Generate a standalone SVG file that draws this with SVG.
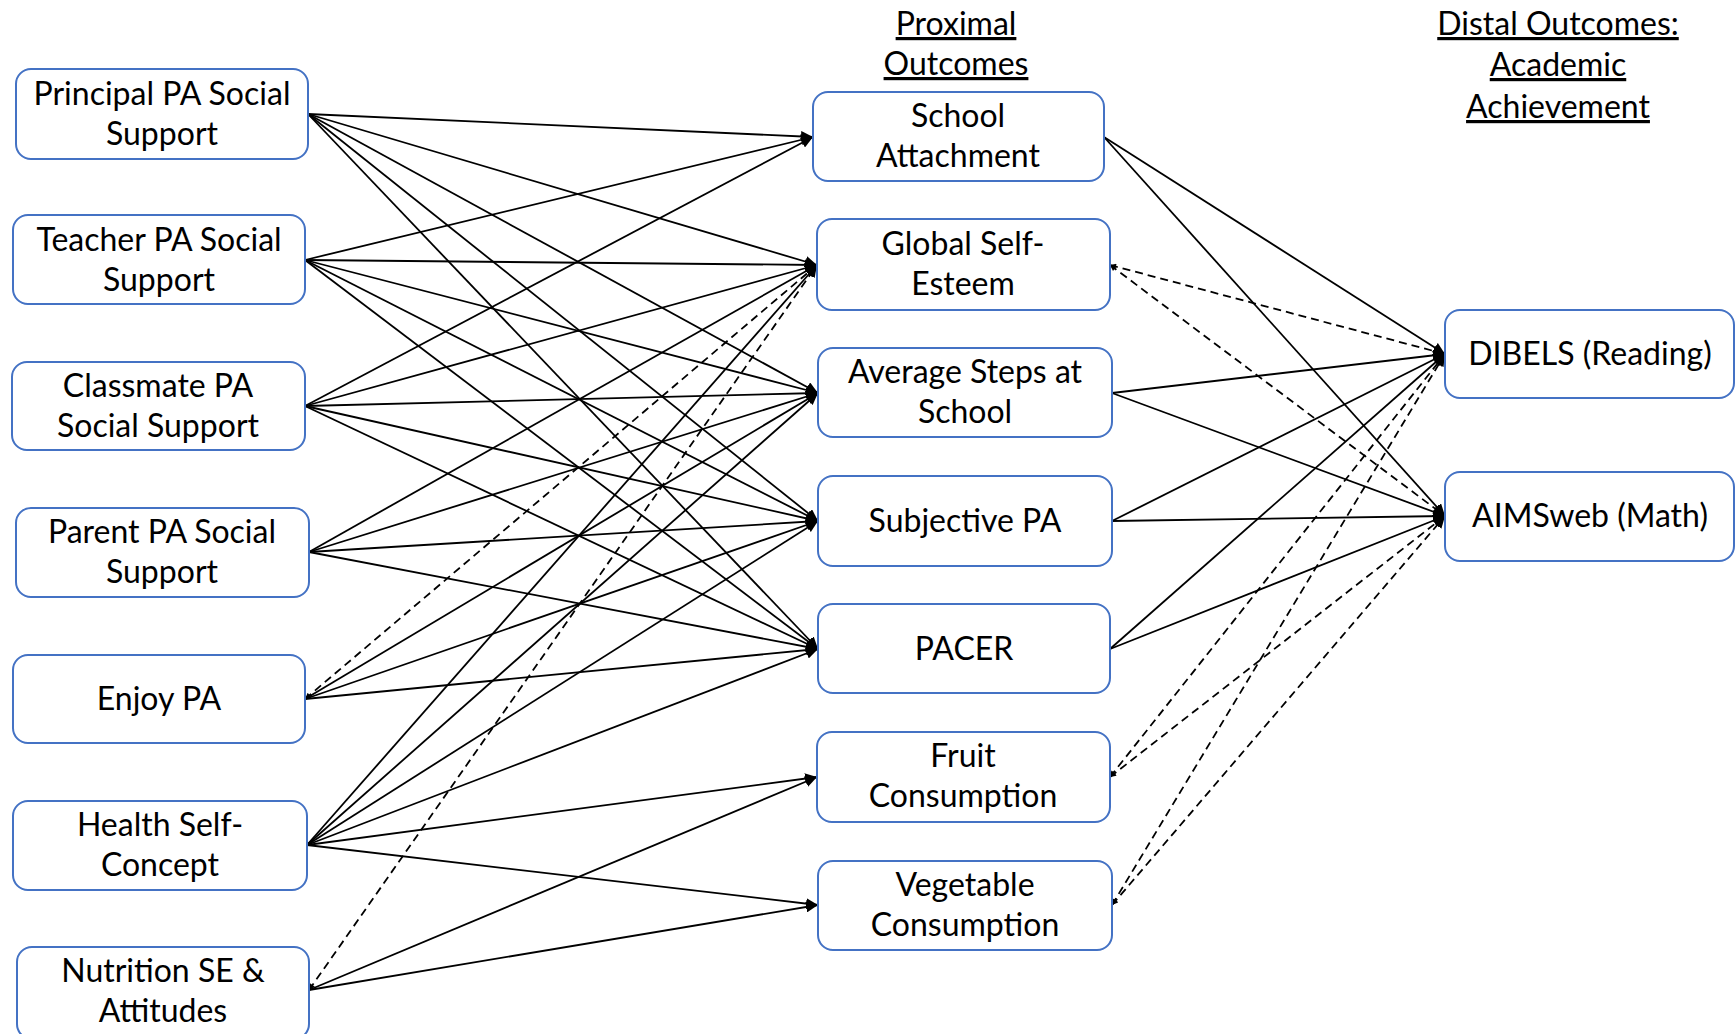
<svg xmlns="http://www.w3.org/2000/svg" width="1736" height="1034" viewBox="0 0 1736 1034">
<style>
.box rect{fill:#fff;stroke:#4472C4;stroke-width:2}
.lbl{font-family:Lato,"Open Sans","Liberation Sans",sans-serif;font-size:32px;fill:#000;text-anchor:middle}
.hdr{font-family:Lato,"Open Sans","Liberation Sans",sans-serif;font-size:32px;fill:#000;text-anchor:middle;text-decoration:underline}
.e{stroke:#000;stroke-width:1.8;fill:none;marker-end:url(#arr)}
.d{stroke:#000;stroke-width:1.8;fill:none;stroke-dasharray:8 5;marker-end:url(#arr);marker-start:url(#tail)}
</style>
<defs>
<marker id="arr" markerUnits="userSpaceOnUse" markerWidth="13" markerHeight="11" refX="12" refY="5.5" orient="auto"><path d="M0,0 L12,5.5 L0,11 z" fill="#000"/></marker>
<marker id="tail" markerUnits="userSpaceOnUse" markerWidth="7" markerHeight="6" refX="0" refY="3" orient="auto"><path d="M0,3 L6,0 L6,6 z" fill="#000"/></marker>
</defs>
<rect width="1736" height="1034" fill="#fff"/>
<g id="headers">
<text class="hdr" x="956" y="35">Proximal</text>
<text class="hdr" x="956" y="75">Outcomes</text>
<text class="hdr" x="1558" y="35">Distal Outcomes:</text>
<text class="hdr" x="1558" y="76">Academic</text>
<text class="hdr" x="1558" y="118">Achievement</text>
</g>
<g id="connectors">
<line class="e" x1="308" y1="114" x2="813" y2="137"/>
<line class="e" x1="308" y1="114" x2="817" y2="265"/>
<line class="e" x1="308" y1="114" x2="818" y2="393"/>
<line class="e" x1="308" y1="114" x2="818" y2="521"/>
<line class="e" x1="308" y1="114" x2="818" y2="649"/>
<line class="e" x1="305" y1="260" x2="813" y2="137"/>
<line class="e" x1="305" y1="260" x2="817" y2="265"/>
<line class="e" x1="305" y1="260" x2="818" y2="393"/>
<line class="e" x1="305" y1="260" x2="818" y2="521"/>
<line class="e" x1="305" y1="260" x2="818" y2="649"/>
<line class="e" x1="305" y1="406" x2="813" y2="137"/>
<line class="e" x1="305" y1="406" x2="817" y2="265"/>
<line class="e" x1="305" y1="406" x2="818" y2="393"/>
<line class="e" x1="305" y1="406" x2="818" y2="521"/>
<line class="e" x1="305" y1="406" x2="818" y2="649"/>
<line class="e" x1="309" y1="552" x2="817" y2="265"/>
<line class="e" x1="309" y1="552" x2="818" y2="393"/>
<line class="e" x1="309" y1="552" x2="818" y2="521"/>
<line class="e" x1="309" y1="552" x2="818" y2="649"/>
<line class="d" x1="305" y1="699" x2="817" y2="265"/>
<line class="e" x1="305" y1="699" x2="818" y2="393"/>
<line class="e" x1="305" y1="699" x2="818" y2="521"/>
<line class="e" x1="305" y1="699" x2="818" y2="649"/>
<line class="e" x1="307" y1="845" x2="817" y2="265"/>
<line class="e" x1="307" y1="845" x2="818" y2="393"/>
<line class="e" x1="307" y1="845" x2="818" y2="521"/>
<line class="e" x1="307" y1="845" x2="818" y2="649"/>
<line class="e" x1="307" y1="845" x2="817" y2="777"/>
<line class="e" x1="307" y1="845" x2="818" y2="905"/>
<line class="d" x1="309" y1="990" x2="817" y2="265"/>
<line class="e" x1="309" y1="990" x2="817" y2="777"/>
<line class="e" x1="309" y1="990" x2="818" y2="905"/>
<line class="e" x1="1104" y1="137" x2="1445" y2="354"/>
<line class="e" x1="1104" y1="137" x2="1445" y2="516"/>
<line class="d" x1="1110" y1="265" x2="1445" y2="354"/>
<line class="d" x1="1110" y1="265" x2="1445" y2="516"/>
<line class="e" x1="1112" y1="393" x2="1445" y2="354"/>
<line class="e" x1="1112" y1="393" x2="1445" y2="516"/>
<line class="e" x1="1112" y1="521" x2="1445" y2="354"/>
<line class="e" x1="1112" y1="521" x2="1445" y2="516"/>
<line class="e" x1="1110" y1="649" x2="1445" y2="354"/>
<line class="e" x1="1110" y1="649" x2="1445" y2="516"/>
<line class="d" x1="1110" y1="777" x2="1445" y2="354"/>
<line class="d" x1="1110" y1="777" x2="1445" y2="516"/>
<line class="d" x1="1112" y1="905" x2="1445" y2="354"/>
<line class="d" x1="1112" y1="905" x2="1445" y2="516"/>
</g>
<g id="principal" class="box"><rect x="16" y="69" width="292" height="90" rx="15"/><text class="lbl" x="162" y="105">Principal PA Social</text><text class="lbl" x="162" y="145">Support</text></g>
<g id="teacher" class="box"><rect x="13" y="215" width="292" height="89" rx="15"/><text class="lbl" x="159" y="251">Teacher PA Social</text><text class="lbl" x="159" y="291">Support</text></g>
<g id="classmate" class="box"><rect x="12" y="362" width="293" height="88" rx="15"/><text class="lbl" x="158" y="397">Classmate PA</text><text class="lbl" x="158" y="437">Social Support</text></g>
<g id="parent" class="box"><rect x="16" y="508" width="293" height="89" rx="15"/><text class="lbl" x="162" y="543">Parent PA Social</text><text class="lbl" x="162" y="583">Support</text></g>
<g id="enjoy" class="box"><rect x="13" y="655" width="292" height="88" rx="15"/><text class="lbl" x="159" y="710">Enjoy PA</text></g>
<g id="health" class="box"><rect x="13" y="801" width="294" height="89" rx="15"/><text class="lbl" x="160" y="836">Health Self-</text><text class="lbl" x="160" y="876">Concept</text></g>
<g id="nutrition" class="box"><rect x="17" y="947" width="292" height="92" rx="15"/><text class="lbl" x="163" y="982">Nutrition SE &amp;</text><text class="lbl" x="163" y="1022">Attitudes</text></g>
<g id="school" class="box"><rect x="813" y="92" width="291" height="89" rx="15"/><text class="lbl" x="958" y="127">School</text><text class="lbl" x="958" y="167">Attachment</text></g>
<g id="globalse" class="box"><rect x="817" y="219" width="293" height="91" rx="15"/><text class="lbl" x="963" y="255">Global Self-</text><text class="lbl" x="963" y="295">Esteem</text></g>
<g id="avgsteps" class="box"><rect x="818" y="348" width="294" height="89" rx="15"/><text class="lbl" x="965" y="383">Average Steps at</text><text class="lbl" x="965" y="423">School</text></g>
<g id="subjpa" class="box"><rect x="818" y="476" width="294" height="90" rx="15"/><text class="lbl" x="965" y="532">Subjective PA</text></g>
<g id="pacer" class="box"><rect x="818" y="604" width="292" height="89" rx="15"/><text class="lbl" x="964" y="660">PACER</text></g>
<g id="fruit" class="box"><rect x="817" y="732" width="293" height="90" rx="15"/><text class="lbl" x="963" y="767">Fruit</text><text class="lbl" x="963" y="807">Consumption</text></g>
<g id="veg" class="box"><rect x="818" y="861" width="294" height="89" rx="15"/><text class="lbl" x="965" y="896">Vegetable</text><text class="lbl" x="965" y="936">Consumption</text></g>
<g id="dibels" class="box"><rect x="1445" y="310" width="289" height="88" rx="15"/><text class="lbl" x="1590" y="365">DIBELS (Reading)</text></g>
<g id="aimsweb" class="box"><rect x="1445" y="472" width="289" height="89" rx="15"/><text class="lbl" x="1590" y="527">AIMSweb (Math)</text></g>
</svg>
